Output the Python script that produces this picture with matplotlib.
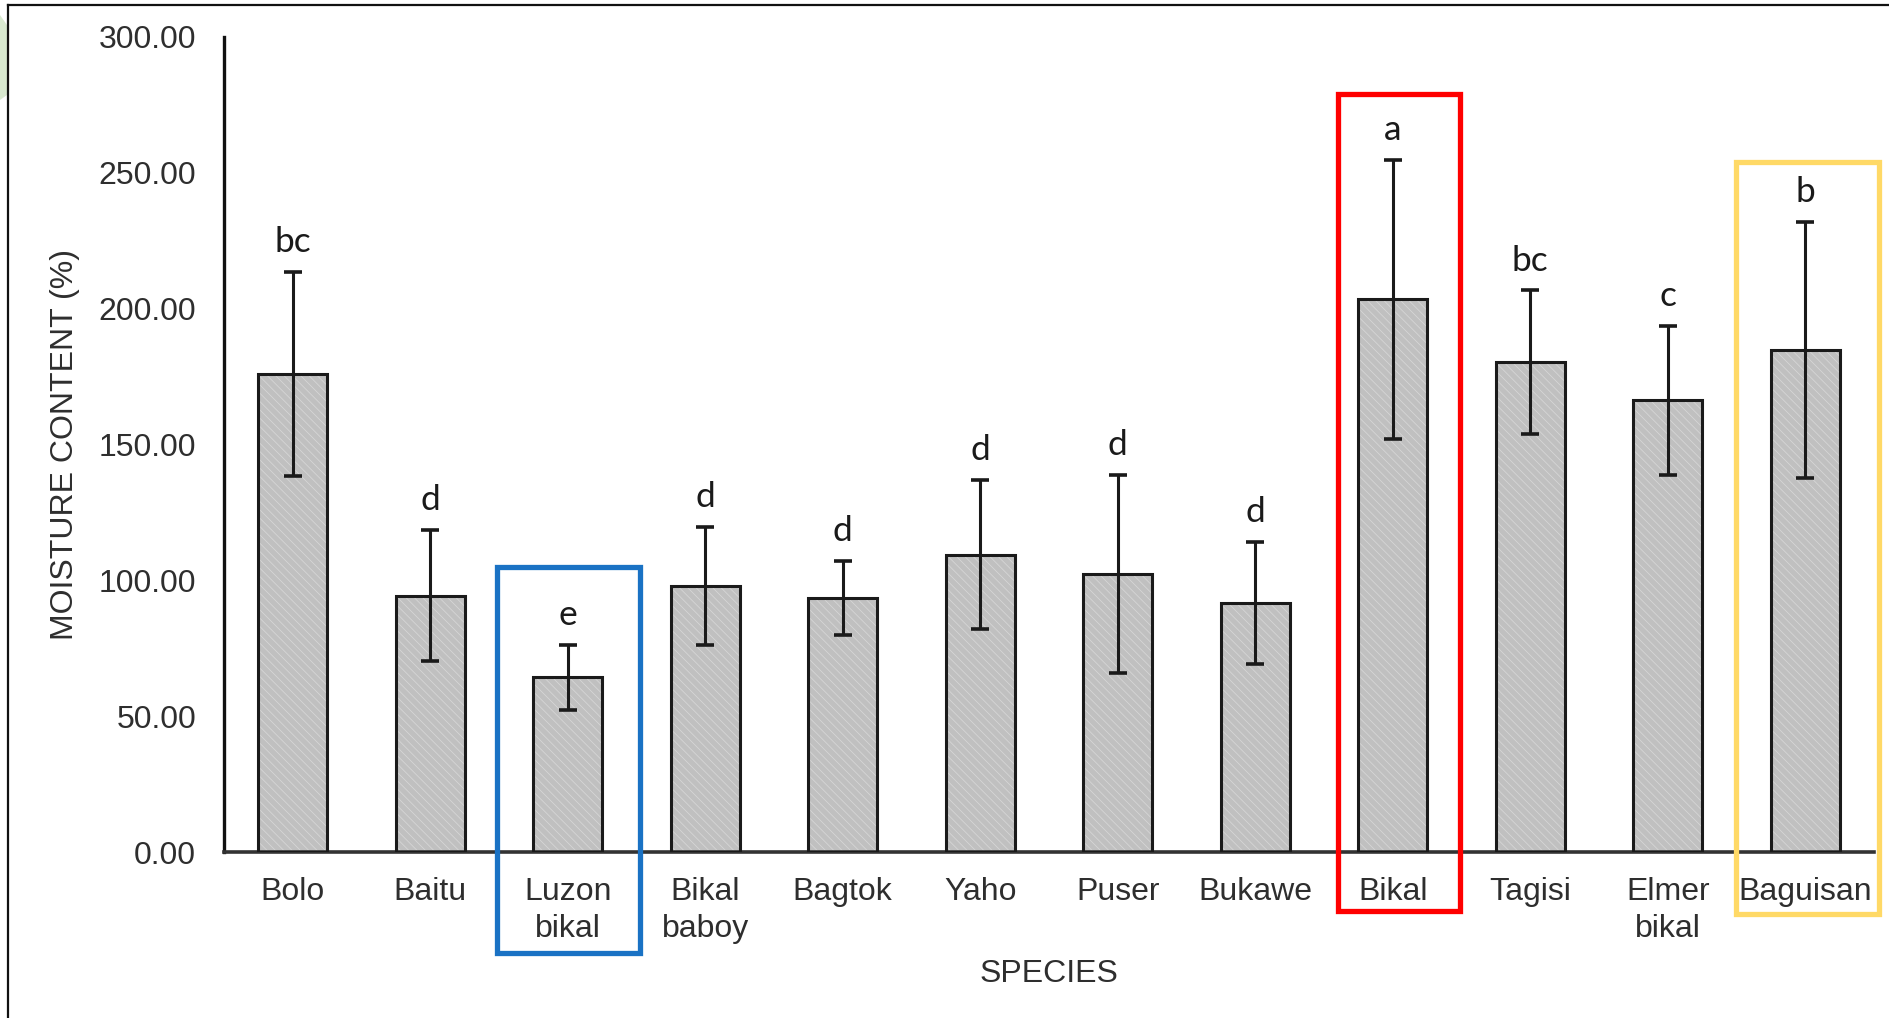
import matplotlib
matplotlib.use("Agg")
import matplotlib.pyplot as plt
from matplotlib.patches import Rectangle, Polygon
from matplotlib.lines import Line2D
import numpy as np

species = ["Bolo", "Baitu", "Luzon\nbikal", "Bikal\nbaboy", "Bagtok", "Yaho",
           "Puser", "Bukawe", "Bikal", "Tagisi", "Elmer\nbikal", "Baguisan"]
moisture = [175.9, 94.4, 64.3, 97.9, 93.5, 109.5, 102.4, 91.7, 203.4, 180.3, 166.2, 184.8]
sd = [37.5, 24.0, 12.0, 21.7, 13.5, 27.5, 36.5, 22.4, 51.2, 26.4, 27.3, 47.0]
letters = ["bc", "d", "e", "d", "d", "d", "d", "d", "a", "bc", "c", "b"]
yticks = [0, 50, 100, 150, 200, 250, 300]

# highlight boxes: (category index, color)
highlights = [(2, "#1a72c4"), (8, "#ff0000"), (11, "#ffd966")]

plt.rcParams['hatch.linewidth'] = 0.6
fig = plt.figure(figsize=(18.9, 10.18), dpi=100)
ax = fig.add_axes([224/1890, 166/1018, (1874-224)/1890, (852-37)/1018])

x = np.arange(len(species))
ax.bar(x, moisture, width=0.5, color="#c0c0c0", edgecolor="none", zorder=2)
ax.bar(x, moisture, width=0.5, color="none", edgecolor="#d6d6d6", hatch="\\\\\\\\",
       linewidth=0, zorder=2.5)
ax.bar(x, moisture, width=0.5, color="none", edgecolor="#1a1a1a", linewidth=2.2, zorder=3)
ax.errorbar(x, moisture, yerr=sd, fmt="none", ecolor="#1a1a1a", elinewidth=2.2,
            capsize=6.5, capthick=2.6, zorder=4)

for xi, m, s, lab in zip(x, moisture, sd, letters):
    ax.annotate(lab, (xi, m + s), xytext=(0, 10), textcoords="offset points",
                ha="center", va="bottom", fontsize=25.5, color="#1a1a1a",
                family=["Lato", "DejaVu Sans"])

ax.set_xlim(-0.5, len(species) - 0.5)
ax.set_ylim(0, 300)
ax.set_yticks(yticks)
ax.set_yticklabels([f"{v:.2f}" for v in yticks])
ax.set_xticks(x)
ax.set_xticklabels(species, linespacing=1.3)
for lbl in ax.get_xticklabels() + ax.get_yticklabels():
    lbl.set_family(["Liberation Sans", "DejaVu Sans"])
    lbl.set_fontsize(23)
    lbl.set_color("#2e2e2e")
ax.tick_params(axis="both", length=0)
ax.tick_params(axis="x", pad=18)
ax.tick_params(axis="y", pad=20)
for sp in ["top", "right"]:
    ax.spines[sp].set_visible(False)
ax.spines["left"].set_linewidth(2.4)
ax.spines["bottom"].set_linewidth(2.6)
ax.spines["left"].set_color("#111111")
ax.spines["bottom"].set_color("#333333")

ax.set_ylabel("MOISTURE CONTENT (%)", fontsize=23, color="#2e2e2e",
              family=["Liberation Sans", "DejaVu Sans"])
ax.set_xlabel("SPECIES", fontsize=23, color="#2e2e2e",
              family=["Liberation Sans", "DejaVu Sans"])
ax.yaxis.set_label_coords(-0.087, 0.5)
ax.xaxis.set_label_coords(0.5, -0.131)

# highlight rectangles
box_geom = {2: (0.52, 105, -37), 8: (0.445, 279, -21.7), 11: (0.52, 254, -22.8)}
for idx, col in highlights:
    hw, top, bot = box_geom[idx]
    cx = idx + (0.005 if idx == 2 else (0.045 if idx == 8 else 0.02))
    ax.add_patch(Rectangle((cx - hw, bot), 2 * hw, top - bot, fill=False,
                           edgecolor=col, linewidth=3.8, clip_on=False, zorder=6))

# outer frame (top and left) and faint decoration
fig.add_artist(Line2D([8/1890, 8/1890], [0, 1 - 5/1018], color="#111111", linewidth=1.6))
fig.add_artist(Line2D([8/1890, 1], [1 - 5/1018, 1 - 5/1018], color="#111111", linewidth=1.6))
fig.add_artist(Polygon([(0, 1 - 15/1018), (7/1890, 1 - 25/1018), (7/1890, 1 - 95/1018), (0, 1 - 100/1018)],
                       closed=True, facecolor="#cfe3c4", edgecolor="none", alpha=0.8))

fig.savefig("out.png", dpi=100, facecolor="white")
